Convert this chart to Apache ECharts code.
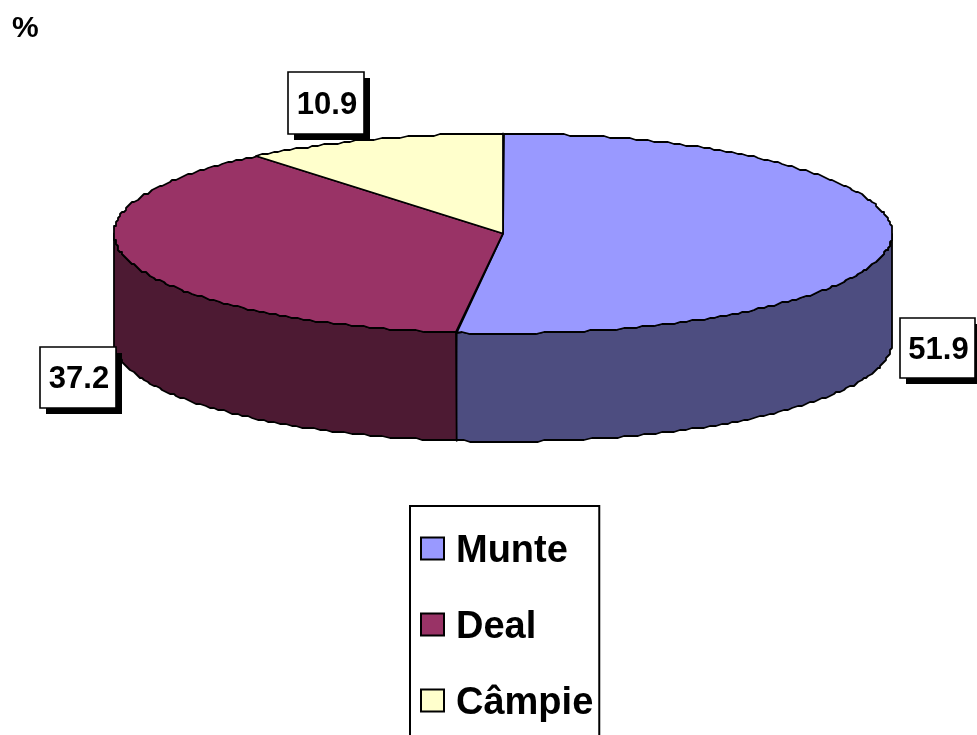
<!DOCTYPE html>
<html><head><meta charset="utf-8">
<style>html,body{margin:0;padding:0;background:#fff}#c{width:977px;height:735px}</style>
<script src="https://cdn.jsdelivr.net/npm/echarts@6/dist/echarts.min.js"></script>
</head><body><div id="c"></div>
<script>
const categories = ['Munte', 'Deal', 'Câmpie'];
const values = [51.9, 37.2, 10.9];
const unitLabel = '%';

const topColors = ['#9999ff', '#993366', '#ffffcc'];
const sideColors = ['#4d4d80', '#4d1a33', '#80806a'];
const pie = { cx: 503, cy: 233.5, rx: 389, ry: 100, depth: 108, grid: 2, stepDeg: 1 };
const labelBoxes = [
  { x: 900, y: 318, w: 75, h: 60 },
  { x: 40, y: 347, w: 76, h: 61 },
  { x: 288, y: 72, w: 76, h: 62 }
];
const FONT = '"Liberation Sans", Arial, sans-serif';
const total = values.reduce((a, b) => a + b, 0);

const snap = v => Math.round(v / pie.grid) * pie.grid;
function rim(deg, dy) {
  const t = deg * Math.PI / 180;
  return [snap(pie.cx + pie.rx * Math.sin(t)), snap(pie.cy + dy - pie.ry * Math.cos(t))];
}
function arc(a, b, dy) {
  const pts = [], dir = b >= a ? 1 : -1;
  for (let d = a; dir * d < dir * b; d += dir * pie.stepDeg) pts.push(rim(d, dy));
  const last = (b * Math.PI) / 180;
  pts.push([pie.cx + pie.rx * Math.sin(last), pie.cy + dy - pie.ry * Math.cos(last)]);
  return pts;
}

const chart = echarts.init(document.getElementById('c'), null, { renderer: 'canvas' });
let acc = 0;
const series = categories.map((name, i) => {
  const start = acc / total * 360;
  acc += values[i];
  const end = acc / total * 360;
  return {
    type: 'custom', name, coordinateSystem: 'none', silent: true,
    itemStyle: { color: topColors[i] },
    data: [[values[i], start, end]],
    renderItem: (params, api) => {
      const a = api.value(1), b = api.value(2), children = [];
      const sa = Math.max(a, 90), sb = Math.min(b, 270);
      if (sb > sa) {
        children.push({
          type: 'polygon',
          shape: { points: arc(sa, sb, 0).concat(arc(sb, sa, pie.depth)) },
          style: { fill: sideColors[i], stroke: '#000', lineWidth: 1.8, lineJoin: 'round' }
        });
      }
      children.push({
        type: 'polygon',
        shape: { points: [[pie.cx, pie.cy]].concat(arc(a, b, 0)) },
        style: { fill: topColors[i], stroke: '#000', lineWidth: 1.8, lineJoin: 'round' }
      });
      const box = labelBoxes[i];
      children.push({
        type: 'rect', z2: 20,
        shape: { x: box.x + 6, y: box.y + 6, width: box.w, height: box.h },
        style: { fill: '#000' }
      }, {
        type: 'rect', z2: 21,
        shape: { x: box.x, y: box.y, width: box.w, height: box.h },
        style: { fill: '#fff', stroke: '#000', lineWidth: 1.6 }
      }, {
        type: 'text', z2: 22,
        x: box.x + box.w / 2 + 1, y: box.y + box.h / 2 + 2,
        style: {
          text: api.value(0).toFixed(1), fill: '#000',
          font: 'bold 31px ' + FONT, align: 'center', verticalAlign: 'middle'
        }
      });
      return { type: 'group', children };
    }
  };
});

chart.setOption({
  animation: false,
  backgroundColor: '#fff',
  title: {
    text: unitLabel, left: 12, top: 14, padding: 0,
    textStyle: { fontFamily: FONT, fontWeight: 'bold', fontSize: 30, color: '#000' }
  },
  legend: {
    orient: 'vertical', left: 410, top: 506, height: 600, width: 189,
    data: categories, selectedMode: false,
    backgroundColor: '#fff', borderColor: '#000', borderWidth: 2, borderRadius: 0,
    padding: [20, 6, 40, 10],
    itemWidth: 23, itemHeight: 22, itemGap: 31,
    icon: 'rect',
    itemStyle: { borderColor: '#000', borderWidth: 2 },
    formatter: name => '{t|' + name + '}',
    textStyle: {
      fontFamily: FONT, fontWeight: 'bold', fontSize: 38, color: '#000',
      padding: [0, 0, 0, 7],
      rich: {
        t: {
          fontFamily: FONT, fontWeight: 'bold', fontSize: 38, color: '#000',
          lineHeight: 37, padding: [7, 0, 0, 0]
        }
      }
    }
  },
  series
});
</script></body></html>
